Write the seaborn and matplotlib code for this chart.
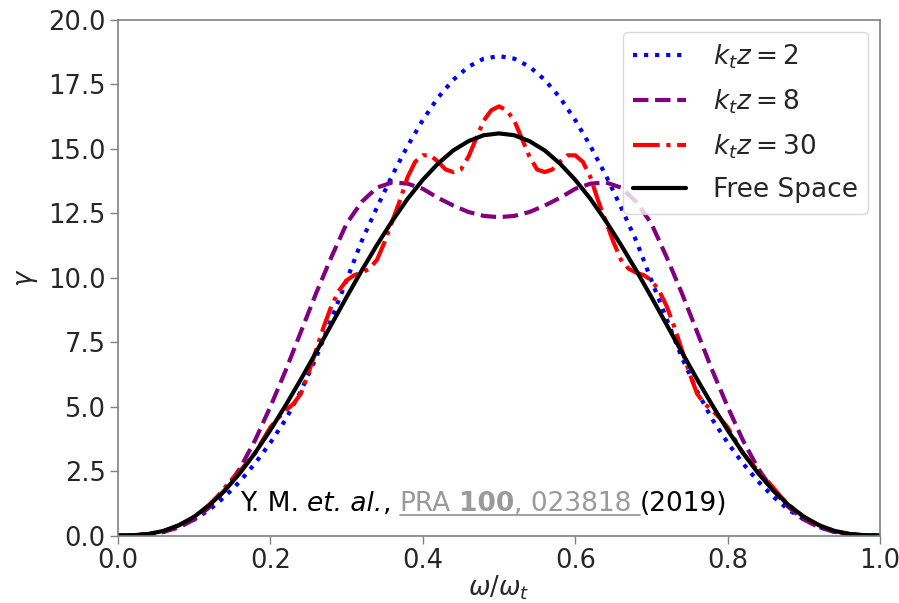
import numpy as np
import pandas as pd
import matplotlib
matplotlib.use("Agg")
import matplotlib.pyplot as plt
import seaborn as sns

# ---------------- data ----------------
omega_coarse = [0.00, 0.02, 0.04, 0.06, 0.08, 0.10, 0.12, 0.14, 0.16, 0.18, 0.20,
                0.22, 0.24, 0.26, 0.28, 0.30, 0.32, 0.34, 0.36, 0.38, 0.40,
                0.42, 0.44, 0.46, 0.48, 0.50, 0.52, 0.54, 0.56, 0.58, 0.60,
                0.62, 0.64, 0.66, 0.68, 0.70, 0.72, 0.74, 0.76, 0.78, 0.80,
                0.82, 0.84, 0.86, 0.88, 0.90, 0.92, 0.94, 0.96, 0.98, 1.00]

gamma_kz2 = [0.0, 0.006, 0.045, 0.14, 0.33, 0.62, 1.0, 1.5, 2.1, 2.8, 3.6,
             4.5, 5.6, 6.9, 8.4, 9.9, 11.44, 12.74, 13.98, 15.11, 16.12,
             16.99, 17.68, 18.19, 18.50, 18.6, 18.50, 18.19, 17.68, 16.99, 16.12,
             15.11, 13.98, 12.74, 11.44, 9.9, 8.4, 6.9, 5.6, 4.5, 3.6,
             2.8, 2.1, 1.5, 1.0, 0.62, 0.33, 0.14, 0.045, 0.006, 0.0]

gamma_kz8 = [0.0, 0.01, 0.05, 0.14, 0.32, 0.62, 1.1, 1.75, 2.6, 3.7, 5.0,
             6.4, 7.9, 9.4, 10.8, 12.1, 12.95, 13.5, 13.7, 13.65, 13.45,
             13.1, 12.8, 12.55, 12.4, 12.35, 12.4, 12.55, 12.8, 13.1, 13.45,
             13.65, 13.7, 13.5, 12.95, 12.1, 10.8, 9.4, 7.9, 6.4, 5.0,
             3.7, 2.6, 1.75, 1.1, 0.62, 0.32, 0.14, 0.05, 0.01, 0.0]

gamma_free = [0.0, 0.01, 0.06, 0.18, 0.40, 0.73, 1.18, 1.74, 2.42, 3.21, 4.09,
              5.05, 6.06, 7.11, 8.18, 9.25, 10.29, 11.28, 12.21, 13.06, 13.80,
              14.43, 14.94, 15.30, 15.53, 15.6, 15.53, 15.30, 14.94, 14.43, 13.80,
              13.06, 12.21, 11.28, 10.29, 9.25, 8.18, 7.11, 6.06, 5.05, 4.09,
              3.21, 2.42, 1.74, 1.18, 0.73, 0.40, 0.18, 0.06, 0.01, 0.0]

omega_fine = [round(0.01 * i, 2) for i in range(101)]
gamma_kz30 = [0.0, 0.001, 0.008, 0.025, 0.06, 0.11, 0.18, 0.28, 0.40, 0.55,
              0.72, 0.95, 1.2, 1.5, 1.85, 2.2, 2.5, 2.85, 3.2, 3.7,
              4.2, 4.55, 4.85, 5.1, 5.5, 6.3, 7.2, 8.1, 8.9, 9.5,
              9.9, 10.1, 10.2, 10.35, 10.7, 11.4, 12.2, 13.0, 13.9, 14.5,
              14.75, 14.75, 14.5, 14.2, 14.1, 14.2, 14.7, 15.4, 16.1, 16.5,
              16.65,
              16.5, 16.1, 15.4, 14.7, 14.2, 14.1, 14.2, 14.5, 14.75, 14.75,
              14.5, 13.9, 13.0, 12.2, 11.4, 10.7, 10.35, 10.2, 10.1, 9.9,
              9.5, 8.9, 8.1, 7.2, 6.3, 5.5, 5.1, 4.85, 4.55, 4.2,
              3.7, 3.2, 2.85, 2.5, 2.2, 1.85, 1.5, 1.2, 0.95, 0.72,
              0.55, 0.40, 0.28, 0.18, 0.11, 0.06, 0.025, 0.008, 0.001, 0.0]

labels = [r"$k_t z = 2$", r"$k_t z = 8$", r"$k_t z = 30$", "Free Space"]
x_ticks = [0.0, 0.2, 0.4, 0.6, 0.8, 1.0]
y_ticks = [0.0, 2.5, 5.0, 7.5, 10.0, 12.5, 15.0, 17.5, 20.0]

# ---------------- style ----------------
sns.set_style("white")
plt.rcParams["font.family"] = ["DejaVu Sans"]
plt.rcParams["mathtext.fontset"] = "dejavusans"

fig = plt.figure(figsize=(8.99, 6.03), dpi=100)
ax = fig.add_axes([118 / 899, 1 - 535.5 / 603, (880 - 118) / 899, (535.5 - 20) / 603])

lw = 3.0
sns.lineplot(x=omega_coarse, y=gamma_kz2, ax=ax, color="blue", linestyle=":",
             linewidth=lw, label=labels[0], estimator=None, sort=False)
sns.lineplot(x=omega_coarse, y=gamma_kz8, ax=ax, color="purple", linestyle="--",
             linewidth=lw, label=labels[1], estimator=None, sort=False)
sns.lineplot(x=omega_fine, y=gamma_kz30, ax=ax, color="red", linestyle="-.",
             linewidth=lw, label=labels[2], estimator=None, sort=False)
sns.lineplot(x=omega_coarse, y=gamma_free, ax=ax, color="black", linestyle="-",
             linewidth=lw, label=labels[3], estimator=None, sort=False)

ax.set_xlim(0, 1)
ax.set_ylim(0, 20)
ax.set_xticks(x_ticks)
ax.set_xticklabels([f"{v:.1f}" for v in x_ticks])
ax.set_yticks(y_ticks)
ax.set_yticklabels([f"{v:.1f}" for v in y_ticks])
ax.tick_params(axis="both", direction="out", length=6, width=1, color="#808080",
               labelsize=18.5, labelcolor="#262626", pad=3, bottom=True, left=True)
for s in ax.spines.values():
    s.set_color("#808080")
    s.set_linewidth(1.2)

ax.set_xlabel(r"$\omega/\omega_t$", fontsize=18.5, color="#262626", labelpad=0)
ax.set_ylabel(r"$\gamma$", fontsize=18.5, color="#262626", labelpad=6)

leg = ax.legend(loc="upper right", fontsize=19, frameon=True, fancybox=True,
                framealpha=0.8, edgecolor="#d0d0d0", handlelength=2.0,
                borderaxespad=0.45, labelspacing=0.62, handletextpad=1.0)
for t in leg.get_texts():
    t.set_color("#262626")

# ---------------- citation annotation ----------------
fig.canvas.draw()
renderer = fig.canvas.get_renderer()
fam = "DejaVu Sans"
fs = 19
gray = "#9a9a9a"
pieces = [("Y. M. ", "normal", "normal", "black", False),
          ("et. al.", "italic", "normal", "black", False),
          (", ", "normal", "normal", "black", False),
          ("PRA ", "normal", "normal", gray, True),
          ("100", "normal", "bold", gray, True),
          (", 023818 ", "normal", "normal", gray, True),
          ("(2019)", "normal", "normal", "black", False)]


def text_width(s, style, weight):
    t = fig.text(0, 0, s, fontsize=fs, family=fam, style=style, weight=weight)
    w = t.get_window_extent(renderer).width
    t.remove()
    return w


space_w = text_width("x x", "normal", "normal") - text_width("xx", "normal", "normal")
x_px = 240.0
base_px = 603 - 511.0
ul_start = None
ul_end = None
for s, style, weight, col, ul in pieces:
    core = s.rstrip(" ")
    n_trail = len(s) - len(core)
    t = fig.text(x_px / 899, base_px / 603, core, fontsize=fs, family=fam,
                 style=style, weight=weight, color=col, va="baseline", ha="left")
    w = t.get_window_extent(renderer).width + n_trail * space_w
    if ul and ul_start is None:
        ul_start = x_px
    if ul:
        ul_end = x_px + w
    x_px += w

uy = (base_px - 3.5) / 603
fig.add_artist(plt.Line2D([ul_start / 899, ul_end / 899], [uy, uy],
                          color=gray, linewidth=1.3, transform=fig.transFigure))

fig.savefig("out.png", dpi=100)
